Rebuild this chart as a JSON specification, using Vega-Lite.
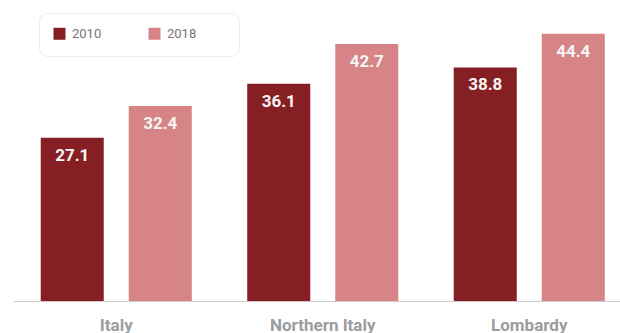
{
  "$schema": "https://vega.github.io/schema/vega-lite/v6.json",
  "width": 607,
  "height": 301,
  "autosize": {"type": "none"},
  "padding": {"left": 13, "top": 0, "right": 0, "bottom": 32},
  "background": "white",
  "config": {"view": {"stroke": null}, "font": "Roboto"},
  "data": {
    "values": [
      {"region": "Italy", "year": "2010", "value": 27.1},
      {"region": "Italy", "year": "2018", "value": 32.4},
      {"region": "Northern Italy", "year": "2010", "value": 36.1},
      {"region": "Northern Italy", "year": "2018", "value": 42.7},
      {"region": "Lombardy", "year": "2010", "value": 38.8},
      {"region": "Lombardy", "year": "2018", "value": 44.4}
    ]
  },
  "encoding": {
    "x": {
      "field": "region",
      "type": "nominal",
      "sort": ["Italy", "Northern Italy", "Lombardy"],
      "scale": {"range": [0, 619.5], "paddingInner": 0, "paddingOuter": 0},
      "axis": {
        "title": null,
        "ticks": false,
        "domainColor": "#cccccc",
        "domainWidth": 1,
        "labelColor": "#9a9ca0",
        "labelFontWeight": "bold",
        "labelFontSize": 17,
        "labelPadding": 16,
        "labelAngle": 0
      }
    },
    "xOffset": {
      "field": "year",
      "type": "nominal",
      "scale": {"paddingInner": 0.284, "paddingOuter": 0.315}
    },
    "y": {
      "field": "value",
      "type": "quantitative",
      "scale": {"domain": [0, 50]},
      "axis": null
    }
  },
  "layer": [
    {
      "mark": {"type": "bar"},
      "encoding": {
        "color": {
          "field": "year",
          "type": "nominal",
          "scale": {"domain": ["2010", "2018"], "range": ["#861f24", "#d78486"]},
          "legend": {
            "title": "\u2003",
            "titleOrient": "right",
            "titleFontSize": 16,
            "titlePadding": 29,
            "orient": "none",
            "legendX": 26,
            "legendY": 13,
            "direction": "horizontal",
            "fillColor": "white",
            "strokeColor": "#ececec",
            "cornerRadius": 8,
            "padding": 14,
            "symbolType": "square",
            "symbolSize": 144,
            "symbolStrokeWidth": 0,
            "labelFontSize": 13,
            "labelColor": "#777777",
            "labelOffset": 6,
            "columnPadding": 46
          }
        }
      }
    },
    {
      "mark": {
        "type": "text",
        "baseline": "top",
        "dy": 10,
        "fontWeight": "bold",
        "fontSize": 17,
        "color": "#f5f5f5"
      },
      "encoding": {
        "text": {"field": "value", "type": "quantitative", "format": ".1f"}
      }
    }
  ]
}
